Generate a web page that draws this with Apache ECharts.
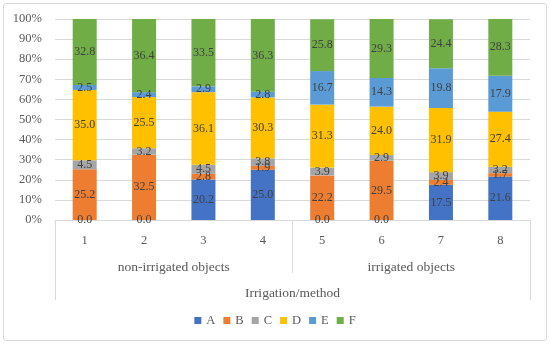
<!DOCTYPE html>
<html>
<head>
<meta charset="utf-8">
<script src="https://cdn.jsdelivr.net/npm/echarts@6/dist/echarts.min.js"></script>
<style>
html,body{margin:0;padding:0;background:#fff;}
#wrap{position:relative;width:550px;height:345px;}
#chart{position:absolute;left:0;top:0;width:550px;height:345px;}
#frame{position:absolute;left:3px;top:3px;width:542px;height:336px;border:1px solid #d9d9d9;border-radius:3px;pointer-events:none;}
</style>
</head>
<body>
<div id="wrap"><div id="chart"></div><div id="frame"></div></div>
<script>
const categories = ['1','2','3','4','5','6','7','8'];
const groups = ['non-irrigated objects','irrigated objects'];
const axisTitle = ['Irrigation/method'];
const seriesNames = ['A','B','C','D','E','F'];
const valuesA = [0.0, 0.0, 20.2, 25.0, 0.0, 0.0, 17.5, 21.6];
const valuesB = [25.2, 32.5, 2.8, 1.9, 22.2, 29.5, 2.4, 1.7];
const valuesC = [4.5, 3.2, 4.5, 3.8, 3.9, 2.9, 3.9, 3.2];
const valuesD = [35.0, 25.5, 36.1, 30.3, 31.3, 24.0, 31.9, 27.4];
const valuesE = [2.5, 2.4, 2.9, 2.8, 16.7, 14.3, 19.8, 17.9];
const valuesF = [32.8, 36.4, 33.5, 36.3, 25.8, 29.3, 24.4, 28.3];
const yTicks = [0,10,20,30,40,50,60,70,80,90,100];

const colors = ['#4472C4','#ED7D31','#A5A5A5','#FFC000','#5B9BD5','#70AD47'];
const allValues = [valuesA, valuesB, valuesC, valuesD, valuesE, valuesF];
const FONT = '"Liberation Serif", "DejaVu Serif", serif';

const chart = echarts.init(document.getElementById('chart'), null, {renderer:'canvas'});
const series = seriesNames.map((n,i)=>({
  name: n, type: 'bar', stack: 'total', xAxisIndex: 0, barWidth: 24,
  data: allValues[i],
  itemStyle: {color: colors[i]},
  label: {show: true, position: 'inside', color: '#404040', fontSize: 12, fontFamily: FONT,
    formatter: p => Number(p.value).toFixed(1)}
}));

chart.setOption({
  animation: false,
  color: colors,
  textStyle: {fontFamily: FONT},
  grid: {left: 55, right: 20, top: 19, bottom: 125, containLabel: false},
  legend: {
    data: seriesNames, bottom: 13, left: 'center', itemWidth: 7, itemHeight: 7, itemGap: 8,
    icon: 'rect', textStyle: {color: '#595959', fontSize: 12.5, fontFamily: FONT}
  },
  xAxis: [
    {type: 'category', data: categories, position: 'bottom',
     axisLine: {show: true, lineStyle: {color: '#d9d9d9'}},
     axisTick: {show: false},
     axisLabel: {color: '#595959', fontSize: 12.5, fontFamily: FONT, margin: 14}},
    {type: 'category', data: groups, position: 'bottom', offset: 0,
     axisLine: {show: false},
     axisTick: {show: true, length: 53, lineStyle: {color: '#d9d9d9'}},
     axisLabel: {color: '#595959', fontSize: 13.5, fontFamily: FONT, margin: 40}},
    {type: 'category', data: axisTitle, position: 'bottom', offset: 0,
     axisLine: {show: false},
     axisTick: {show: true, length: 80, lineStyle: {color: '#d9d9d9'}},
     axisLabel: {color: '#595959', fontSize: 13.5, fontFamily: FONT, margin: 66}}
  ],
  yAxis: {
    type: 'value', min: yTicks[0], max: yTicks[yTicks.length-1], interval: 10,
    axisLine: {show: false}, axisTick: {show: false},
    splitLine: {lineStyle: {color: '#d9d9d9'}},
    axisLabel: {color: '#595959', fontSize: 12.5, fontFamily: FONT, margin: 13, formatter: '{value}%'}
  },
  series: series
});
</script>
</body>
</html>
